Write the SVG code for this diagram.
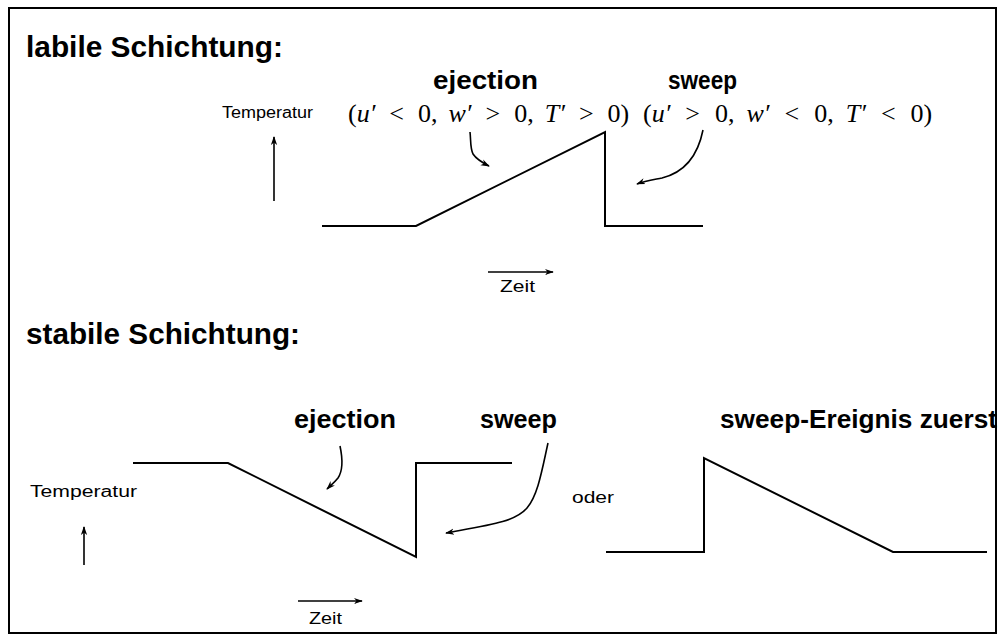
<svg xmlns="http://www.w3.org/2000/svg" width="1005" height="635" viewBox="0 0 1005 635">
<defs>
<marker id="ah" viewBox="0 0 10 10" refX="9" refY="5" markerWidth="9" markerHeight="9" markerUnits="userSpaceOnUse" orient="auto">
<path d="M0,1.5 L10,5 L0,8.5 L3,5 Z" fill="#000"/>
</marker>
<style>
.line{fill:none;stroke:#000;stroke-width:2}
.thin{fill:none;stroke:#000;stroke-width:1.6}
.h{font-family:"Liberation Sans",Arial,sans-serif;font-weight:bold;fill:#000}
.s{font-family:"Liberation Sans",Arial,sans-serif;fill:#000}
.m{font-family:"Liberation Serif","Times New Roman",serif;font-size:26px;fill:#000}
.i{font-style:italic}
</style>
</defs>
<rect x="0" y="0" width="1005" height="635" fill="#fff"/>
<rect x="9" y="8" width="987" height="625" fill="none" stroke="#000" stroke-width="2"/>

<g id="labile">
<text class="h" x="26" y="57" font-size="30" textLength="257" lengthAdjust="spacingAndGlyphs">labile Schichtung:</text>
<text class="h" x="433" y="89" font-size="26" textLength="105" lengthAdjust="spacingAndGlyphs">ejection</text>
<text class="h" x="668" y="89" font-size="26" textLength="69" lengthAdjust="spacingAndGlyphs">sweep</text>
<text class="s" x="222" y="118" font-size="16" textLength="91" lengthAdjust="spacingAndGlyphs">Temperatur</text>
<text class="m" x="348" y="122">(<tspan class="i">u′</tspan><tspan dx="14">&lt;</tspan><tspan dx="14">0,</tspan><tspan class="i" dx="11">w′</tspan><tspan dx="14">&gt;</tspan><tspan dx="14">0,</tspan><tspan class="i" dx="11">T′</tspan><tspan dx="14">&gt;</tspan><tspan dx="14">0)</tspan></text>
<text class="m" x="643" y="122">(<tspan class="i">u′</tspan><tspan dx="15">&gt;</tspan><tspan dx="15">0,</tspan><tspan class="i" dx="12">w′</tspan><tspan dx="15">&lt;</tspan><tspan dx="15">0,</tspan><tspan class="i" dx="12">T′</tspan><tspan dx="15">&lt;</tspan><tspan dx="15">0)</tspan></text>
<polyline class="line" points="322,226 416,226 605,132 605,226 703,226"/>
<text class="s" x="500" y="292" font-size="16" textLength="35" lengthAdjust="spacingAndGlyphs">Zeit</text>
</g>

<g id="stabile">
<text class="h" x="26" y="344" font-size="30" textLength="274" lengthAdjust="spacingAndGlyphs">stabile Schichtung:</text>
<text class="h" x="294" y="428" font-size="26" textLength="102" lengthAdjust="spacingAndGlyphs">ejection</text>
<text class="h" x="480" y="428" font-size="26" textLength="77" lengthAdjust="spacingAndGlyphs">sweep</text>
<text class="h" x="720" y="428" font-size="26" textLength="277" lengthAdjust="spacingAndGlyphs">sweep-Ereignis zuerst</text>
<text class="s" x="30" y="497" font-size="16" textLength="107" lengthAdjust="spacingAndGlyphs">Temperatur</text>
<text class="s" x="572" y="503" font-size="16" textLength="42" lengthAdjust="spacingAndGlyphs">oder</text>
<polyline class="line" points="133,463 228,463 416,557 416,463 512,463"/>
<polyline class="line" points="606,552 704,552 704,458 893,552 987,552"/>
<text class="s" x="309" y="624" font-size="16" textLength="33" lengthAdjust="spacingAndGlyphs">Zeit</text>
</g>

<g id="connectors">
<line class="thin" x1="274" y1="201" x2="274" y2="137" marker-end="url(#ah)"/>
<line class="thin" x1="488" y1="272" x2="553" y2="272" marker-end="url(#ah)"/>
<path class="thin" d="M470,132 C471,140 470,148 473,154 C477,160 483,163 489,166" marker-end="url(#ah)"/>
<path class="thin" d="M703,130 C698,155 686,172 662,178 C652,180 645,181 637,184" marker-end="url(#ah)"/>
<line class="thin" x1="84" y1="565" x2="84" y2="527" marker-end="url(#ah)"/>
<line class="thin" x1="298" y1="601" x2="362" y2="601" marker-end="url(#ah)"/>
<path class="thin" d="M340,446 C343,460 342,472 338,478 C334,483 330,486 327,489" marker-end="url(#ah)"/>
<path class="thin" d="M548,443 C542,470 538,495 527,508 C515,522 490,525 446,533" marker-end="url(#ah)"/>
</g>
</svg>
